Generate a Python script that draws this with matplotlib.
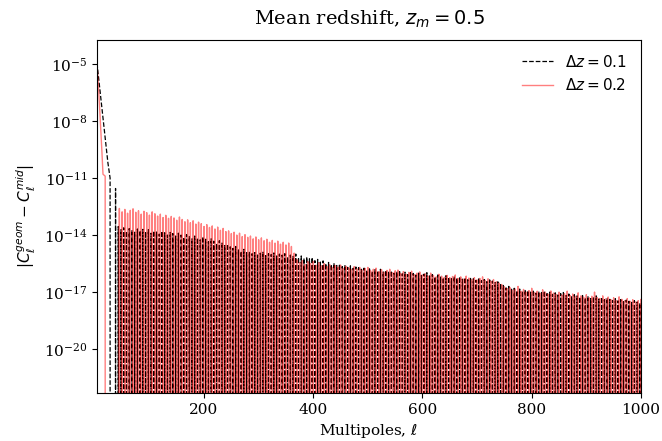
import numpy as np
import matplotlib
matplotlib.use("Agg")
import matplotlib.pyplot as plt
from matplotlib.ticker import NullLocator, FixedLocator

plt.rcParams['font.family'] = ['DejaVu Serif']
plt.rcParams['mathtext.fontset'] = 'dejavusans'
plt.rcParams['font.size'] = 11

# ---------------- data (log10 |C_geom - C_mid|) ----------------
# initial descent + first spikes; None marks a vanishing difference (dip to zero)
ell_early_01 = [4, 8, 12, 16, 20, 24, 28, 30, 38, 40]
log_early_01 = [-4.95, -6.00, -7.10, -8.15, -9.20, -10.20, -11.00, None, -11.55, None]

ell_early_02 = [4, 7, 10, 13, 15, 17, 19, 20]
log_early_02 = [-4.98, -6.30, -7.90, -9.60, -10.80, -10.85, -10.90, None]

# oscillation peaks, Delta z = 0.1 (every 5 multipoles starting at 43)
ell_start_01 = 43
peaks_01 = [
    -13.55, -13.72, -13.62, -13.80, -13.66, -13.74, -13.85, -13.68, -13.76, -13.70,
    -13.82, -13.72, -13.90, -13.78, -13.84, -13.95, -13.80, -13.88, -14.00, -13.86,
    -13.92, -14.05, -13.90, -14.00, -14.12, -13.98, -14.08, -14.20, -14.05, -14.15,
    -14.25, -14.10, -14.22, -14.35, -14.20, -14.32, -14.45, -14.30, -14.42, -14.55,
    -14.48, -14.62, -14.70, -14.60, -14.78, -14.85, -14.75, -14.92, -14.88, -14.98,
    -14.92, -15.05, -14.95, -14.90, -15.08, -14.98, -15.02, -14.94, -15.10, -15.00,
    -15.05, -14.98, -15.15, -15.05, -15.12, -15.00, -15.18, -15.10, -15.22, -15.15,
    -15.25, -15.18, -15.35, -15.28, -15.42, -15.36, -15.50, -15.44, -15.55, -15.48,
    -15.60, -15.52, -15.66, -15.58, -15.70, -15.62, -15.75, -15.68, -15.72, -15.80,
    -15.74, -15.85, -15.78, -15.90, -15.82, -15.88, -15.80, -15.94, -15.86, -15.92,
    -15.88, -16.00, -15.92, -15.86, -16.04, -15.95, -16.08, -15.98, -16.02, -16.10,
    -16.00, -16.12, -16.05, -15.98, -16.15, -16.08, -16.20, -16.10, -16.18, -16.24,
    -16.14, -16.22, -16.30, -16.18, -16.26, -16.20, -16.32, -16.24, -16.35, -16.28,
    -16.30, -16.38, -16.26, -16.40, -16.34, -16.45, -16.36, -16.42, -16.50, -16.46,
    -16.55, -16.65, -16.78, -16.70, -16.85, -16.80, -16.92, -16.84, -16.95, -16.88,
    -16.92, -17.00, -16.90, -17.05, -16.96, -17.02, -16.94, -17.08, -17.00, -17.12,
    -17.04, -17.15, -17.08, -17.02, -17.18, -17.10, -17.22, -17.14, -17.20, -17.26,
    -17.18, -17.30, -17.22, -17.34, -17.25, -17.20, -17.36, -17.28, -17.40, -17.32,
    -17.38, -17.44, -17.35, -17.46, -17.40, -17.50, -17.42, -17.48, -17.54, -17.45,
    -17.52, -17.58,
]

# oscillation peaks, Delta z = 0.2 (every 5 multipoles starting at 45)
ell_start_02 = 45
peaks_02 = [
    -12.60, -12.78, -12.65, -12.85, -12.70, -12.62, -12.80, -12.72, -12.90, -12.75,
    -12.82, -12.95, -12.78, -12.88, -13.00, -12.90, -13.08, -12.96, -13.12, -13.02,
    -13.10, -13.22, -13.05, -13.18, -13.30, -13.20, -13.35, -13.25, -13.42, -13.32,
    -13.40, -13.55, -13.45, -13.60, -13.52, -13.68, -13.58, -13.75, -13.65, -13.82,
    -13.78, -13.92, -13.85, -14.00, -13.90, -14.08, -13.98, -14.12, -14.05, -14.20,
    -14.10, -14.25, -14.15, -14.30, -14.22, -14.38, -14.28, -14.42, -14.32, -14.48,
    -14.38, -14.52, -14.42, -14.60, -14.95, -15.30, -15.45, -15.35, -15.55, -15.40,
    -15.50, -15.38, -15.58, -15.45, -15.62, -15.50, -15.66, -15.55, -15.70, -15.60,
    -15.68, -15.58, -15.75, -15.64, -15.72, -15.80, -15.66, -15.78, -15.70, -15.84,
    -15.76, -15.70, -15.88, -15.80, -15.74, -15.92, -15.82, -15.95, -15.86, -15.80,
    -15.98, -15.88, -15.84, -16.02, -15.92, -16.06, -15.96, -15.90, -16.08, -16.00,
    -15.94, -16.10, -16.04, -16.15, -16.00, -16.12, -16.20, -16.06, -16.16, -16.22,
    -16.12, -16.24, -16.18, -16.10, -16.28, -16.20, -16.32, -16.16, -16.26, -16.34,
    -16.24, -16.36, -16.28, -16.20, -16.38, -16.30, -16.42, -16.34, -16.46, -16.52,
    -16.60, -16.72, -16.82, -16.76, -16.90, -16.84, -16.70, -16.95, -16.86, -17.00,
    -16.92, -16.80, -17.02, -16.95, -17.06, -16.88, -17.00, -17.10, -16.94, -17.05,
    -17.12, -17.00, -17.15, -17.08, -16.95, -17.18, -17.10, -17.22, -17.04, -17.20,
    -17.26, -17.14, -17.30, -17.22, -17.00, -17.28, -17.34, -17.20, -17.36, -17.26,
    -17.40, -17.30, -17.44, -17.25, -17.38, -17.46, -17.34, -17.48, -17.40, -17.52,
    -17.45, -17.38,
]
dip_offset = 2          # multipoles after each peak where the difference vanishes
dip_value = 0.0

labels = [r'$\Delta z = 0.1$', r'$\Delta z = 0.2$']
xticks = [200, 400, 600, 800, 1000]
yticks_exp = [-5, -8, -11, -14, -17, -20]


def build(ell_early, log_early, ell_start, peaks):
    ell, val = [], []
    for l, v in zip(ell_early, log_early):
        ell.append(l)
        val.append(dip_value if v is None else 10.0 ** v)
    for i, v in enumerate(peaks):
        lp = ell_start + 5 * i
        ell.append(lp)
        val.append(10.0 ** v)
        ell.append(lp + dip_offset)
        val.append(dip_value)
    return np.array(ell, float), np.array(val, float)


x1, y1 = build(ell_early_01, log_early_01, ell_start_01, peaks_01)
x2, y2 = build(ell_early_02, log_early_02, ell_start_02, peaks_02)

fig = plt.figure(figsize=(6.62, 4.41), dpi=100)
ax = fig.add_axes([0.1465, 0.1088, 0.8217, 0.8005])
ax.set_yscale('log', nonpositive='clip')
ax.plot(x1, y1, 'k--', lw=0.9, label=labels[0])
ax.plot(x2, y2, 'r-', lw=1.0, alpha=0.5, label=labels[1])

ax.set_xlim(4, 1000)
ax.set_ylim(10 ** -22.31, 10 ** -3.74)
ax.xaxis.set_major_locator(FixedLocator(xticks))
ax.yaxis.set_major_locator(FixedLocator([10.0 ** e for e in yticks_exp]))
ax.yaxis.set_minor_locator(NullLocator())
ax.xaxis.set_minor_locator(NullLocator())

ax.set_title(r'Mean redshift, $z_m = 0.5$', fontsize=14, pad=11)
ax.set_xlabel(r'Multipoles, $\ell$')
ax.set_ylabel(r'$|C_\ell^{geom} - C_\ell^{mid}|$')
ax.legend(loc='upper right', frameon=False)

fig.savefig('out.png', dpi=100)
